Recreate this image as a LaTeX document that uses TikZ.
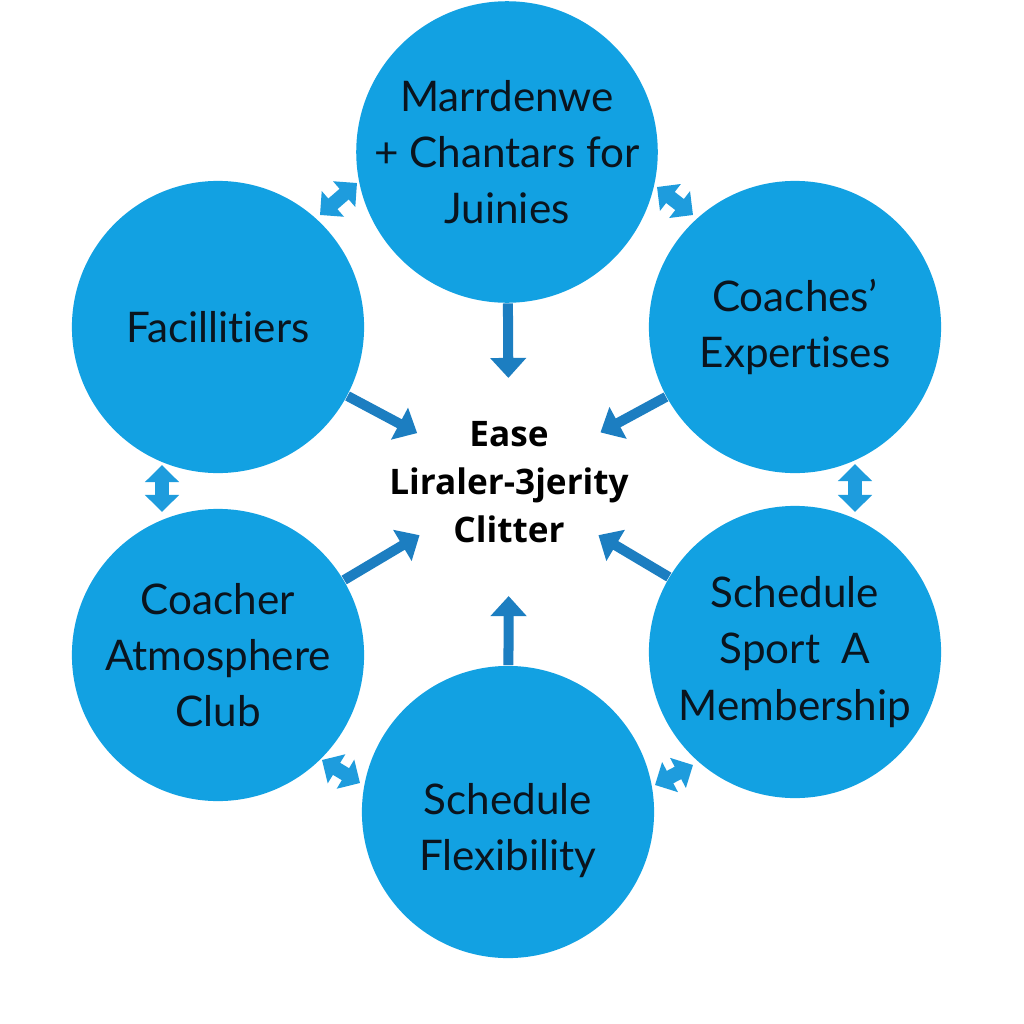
\documentclass[tikz,border=0pt]{standalone}
\usepackage{fontspec}
\setmainfont{Lato}[RawFeature=-liga]
\newfontfamily\hubfont{Open Sans}
\usetikzlibrary{arrows.meta, calc}
\definecolor{topicblue}{RGB}{18,161,226}
\definecolor{arrowblue}{RGB}{28,126,193}
\definecolor{linkblue}{RGB}{30,156,221}
\definecolor{inkdark}{RGB}{10,20,30}

\begin{document}
\begin{tikzpicture}[x=0.01cm, y=-0.01cm,
    topic/.style={circle, fill=topicblue, minimum size=2.92cm, inner sep=0pt,
                  align=center, text=inkdark, font=\fontsize{12}{16}\selectfont},
    hub/.style={align=center, text=black,
                font=\hubfont\bfseries\fontsize{10}{13.6}\selectfont},
    arr/.style={-{Triangle[width=0.35cm, length=0.2cm]}, line width=0.1cm,
                draw=arrowblue, shorten >=1.04cm},
    dbl/.style={{Triangle[width=0.33cm, length=0.17cm]}-{Triangle[width=0.33cm, length=0.17cm]},
                line width=0.14cm, draw=linkblue},
  ]
    \fill[white] (0,0) rectangle (1024,1024);
    \useasboundingbox (0,0) rectangle (1024,1024);

    \node[topic] (top)   at (507,152) {Marrdenwe\\+ Chantars for\\Juinies};
    \node[topic] (fac)   at (218,327) {Facillitiers};
    \node[topic] (coach) at (795,327) {Coaches’\\Expertises};
    \node[topic] (atmo)  at (218,655) {Coacher\\Atmosphere\\Club};
    \node[topic] (sport) at (795,652) {Schedule\\Sport\ \ A\\Membership};
    \node[topic] (flex)  at (508,812) {\\[0.12cm]Schedule\\Flexibility};
    \node[hub]   (hub)   at (509,482) {Ease\\Liraler-3jerity\\Clitter};

    \draw[arr] (top)   -- (hub.center);
    \draw[arr] (fac)   -- (hub.center);
    \draw[arr] (coach) -- (hub.center);
    \draw[arr] (atmo)  -- (hub.center);
    \draw[arr] (sport) -- (hub.center);
    \draw[arr, shorten >=1.14cm] (flex) -- (hub.center);

    % small two-way links in the gaps
    \coordinate (tl1) at (320,215); \coordinate (tl2) at (357,183);
    \coordinate (tr1) at (657,187); \coordinate (tr2) at (693,215);
    \coordinate (ml1) at (162,465); \coordinate (ml2) at (162,512);
    \coordinate (mr1) at (855,464); \coordinate (mr2) at (855,512);
    \coordinate (bl1) at (322,760); \coordinate (bl2) at (360,783);
    \coordinate (br1) at (655,785); \coordinate (br2) at (693,765);
    \draw[dbl] (tl1) -- (tl2);
    \draw[dbl] (tr1) -- (tr2);
    \draw[dbl] (ml1) -- (ml2);
    \draw[dbl] (mr1) -- (mr2);
    \draw[dbl] (bl1) -- (bl2);
    \draw[dbl] (br1) -- (br2);
\end{tikzpicture}
\end{document}
